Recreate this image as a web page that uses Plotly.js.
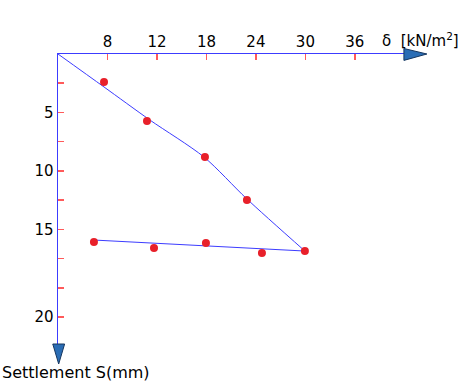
<!DOCTYPE html>
<html>
<head>
<meta charset="utf-8">
<script src="https://cdn.plot.ly/plotly-3.0.1.min.js"></script>
<style>html,body{margin:0;padding:0;background:#fff;}#chart{width:467px;height:383px;}</style>
</head>
<body>
<div id="chart"></div>
<script>
// Measured points (stress δ in kN/m², settlement S in mm)
const loadX = [5.58, 10.79, 17.82, 22.91, 29.94];
const loadY = [2.40, 5.73, 8.81, 12.49, 16.85];
const unloadX = [4.36, 11.64, 17.94, 24.73];
const unloadY = [16.08, 16.60, 16.17, 17.02];
// Fitted curves
const fitLoadX = [0, 5.58, 11.15, 17.70, 22.91, 29.94];
const fitLoadY = [0, 2.82, 5.65, 8.81, 12.40, 16.85];
const fitUnloadX = [4.36, 29.94];
const fitUnloadY = [15.91, 16.85];
// Axis ticks
const xTickVals = [0, 6, 12, 18, 24, 30, 36, 42];
const xTickText = ['', '8', '12', '18', '24', '30', '36', ''];
const yTickVals = [0, 2.5, 5, 7.5, 10, 12.5, 15, 17.5, 20, 22.5];
const yTickText = ['', '', '5', '', '10', '', '15', '', '', '20'];

const lineColor = '#3c3cff';
const dotColor = '#e8202a';
const font = {family: 'DejaVu Sans, Liberation Sans, Arial', size: 15, color: '#000'};

const traces = [
  {x: fitLoadX, y: fitLoadY, mode: 'lines', line: {color: lineColor, width: 1, shape: 'spline', smoothing: 0.8}, hoverinfo: 'skip'},
  {x: fitUnloadX, y: fitUnloadY, mode: 'lines', line: {color: lineColor, width: 1}, hoverinfo: 'skip'},
  {x: loadX, y: loadY, mode: 'markers', marker: {color: dotColor, size: 8}},
  {x: unloadX, y: unloadY, mode: 'markers', marker: {color: dotColor, size: 8}}
];

const layout = {
  width: 467, height: 383,
  margin: {l: 58, r: 61, t: 54, b: 39},
  paper_bgcolor: '#fff', plot_bgcolor: '#fff',
  showlegend: false,
  font: font,
  xaxis: {
    side: 'top', range: [0, 42.2], showline: true, linecolor: lineColor, linewidth: 1.5,
    showgrid: false, zeroline: false, ticks: 'inside', ticklen: 6, tickwidth: 1.5, tickcolor: '#ff5a5a',
    tickvals: xTickVals, ticktext: xTickText, tickfont: font
  },
  yaxis: {
    range: [24.8, 0], showline: true, linecolor: lineColor, linewidth: 1.5,
    showgrid: false, zeroline: false, ticks: 'inside', ticklen: 6, tickwidth: 1.5, tickcolor: '#ff5a5a',
    tickvals: yTickVals, ticktext: yTickText, tickfont: font
  },
  shapes: [
    {type: 'path', xref: 'paper', yref: 'paper', path: 'M 0.994 1.019 L 1.06 1 L 0.994 0.978 Z',
     fillcolor: '#2a6db5', line: {color: '#16365f', width: 1}},
    {type: 'path', xref: 'paper', yref: 'paper', path: 'M -0.015 0 L 0.019 0 L 0.002 -0.069 Z',
     fillcolor: '#2a6db5', line: {color: '#16365f', width: 1}}
  ],
  annotations: [
    {xref: 'paper', yref: 'paper', x: 1.043, y: 1.048, text: 'δ  [kN/m<sup>2</sup>]', showarrow: false,
     xanchor: 'center', yanchor: 'middle', font: font},
    {xref: 'paper', yref: 'paper', x: -0.167, y: -0.097, text: 'Settlement S(mm)', showarrow: false,
     xanchor: 'left', yanchor: 'middle', font: {family: font.family, size: 16, color: '#000'}}
  ]
};

Plotly.newPlot('chart', traces, layout, {displayModeBar: false, staticPlot: true});
</script>
</body>
</html>
